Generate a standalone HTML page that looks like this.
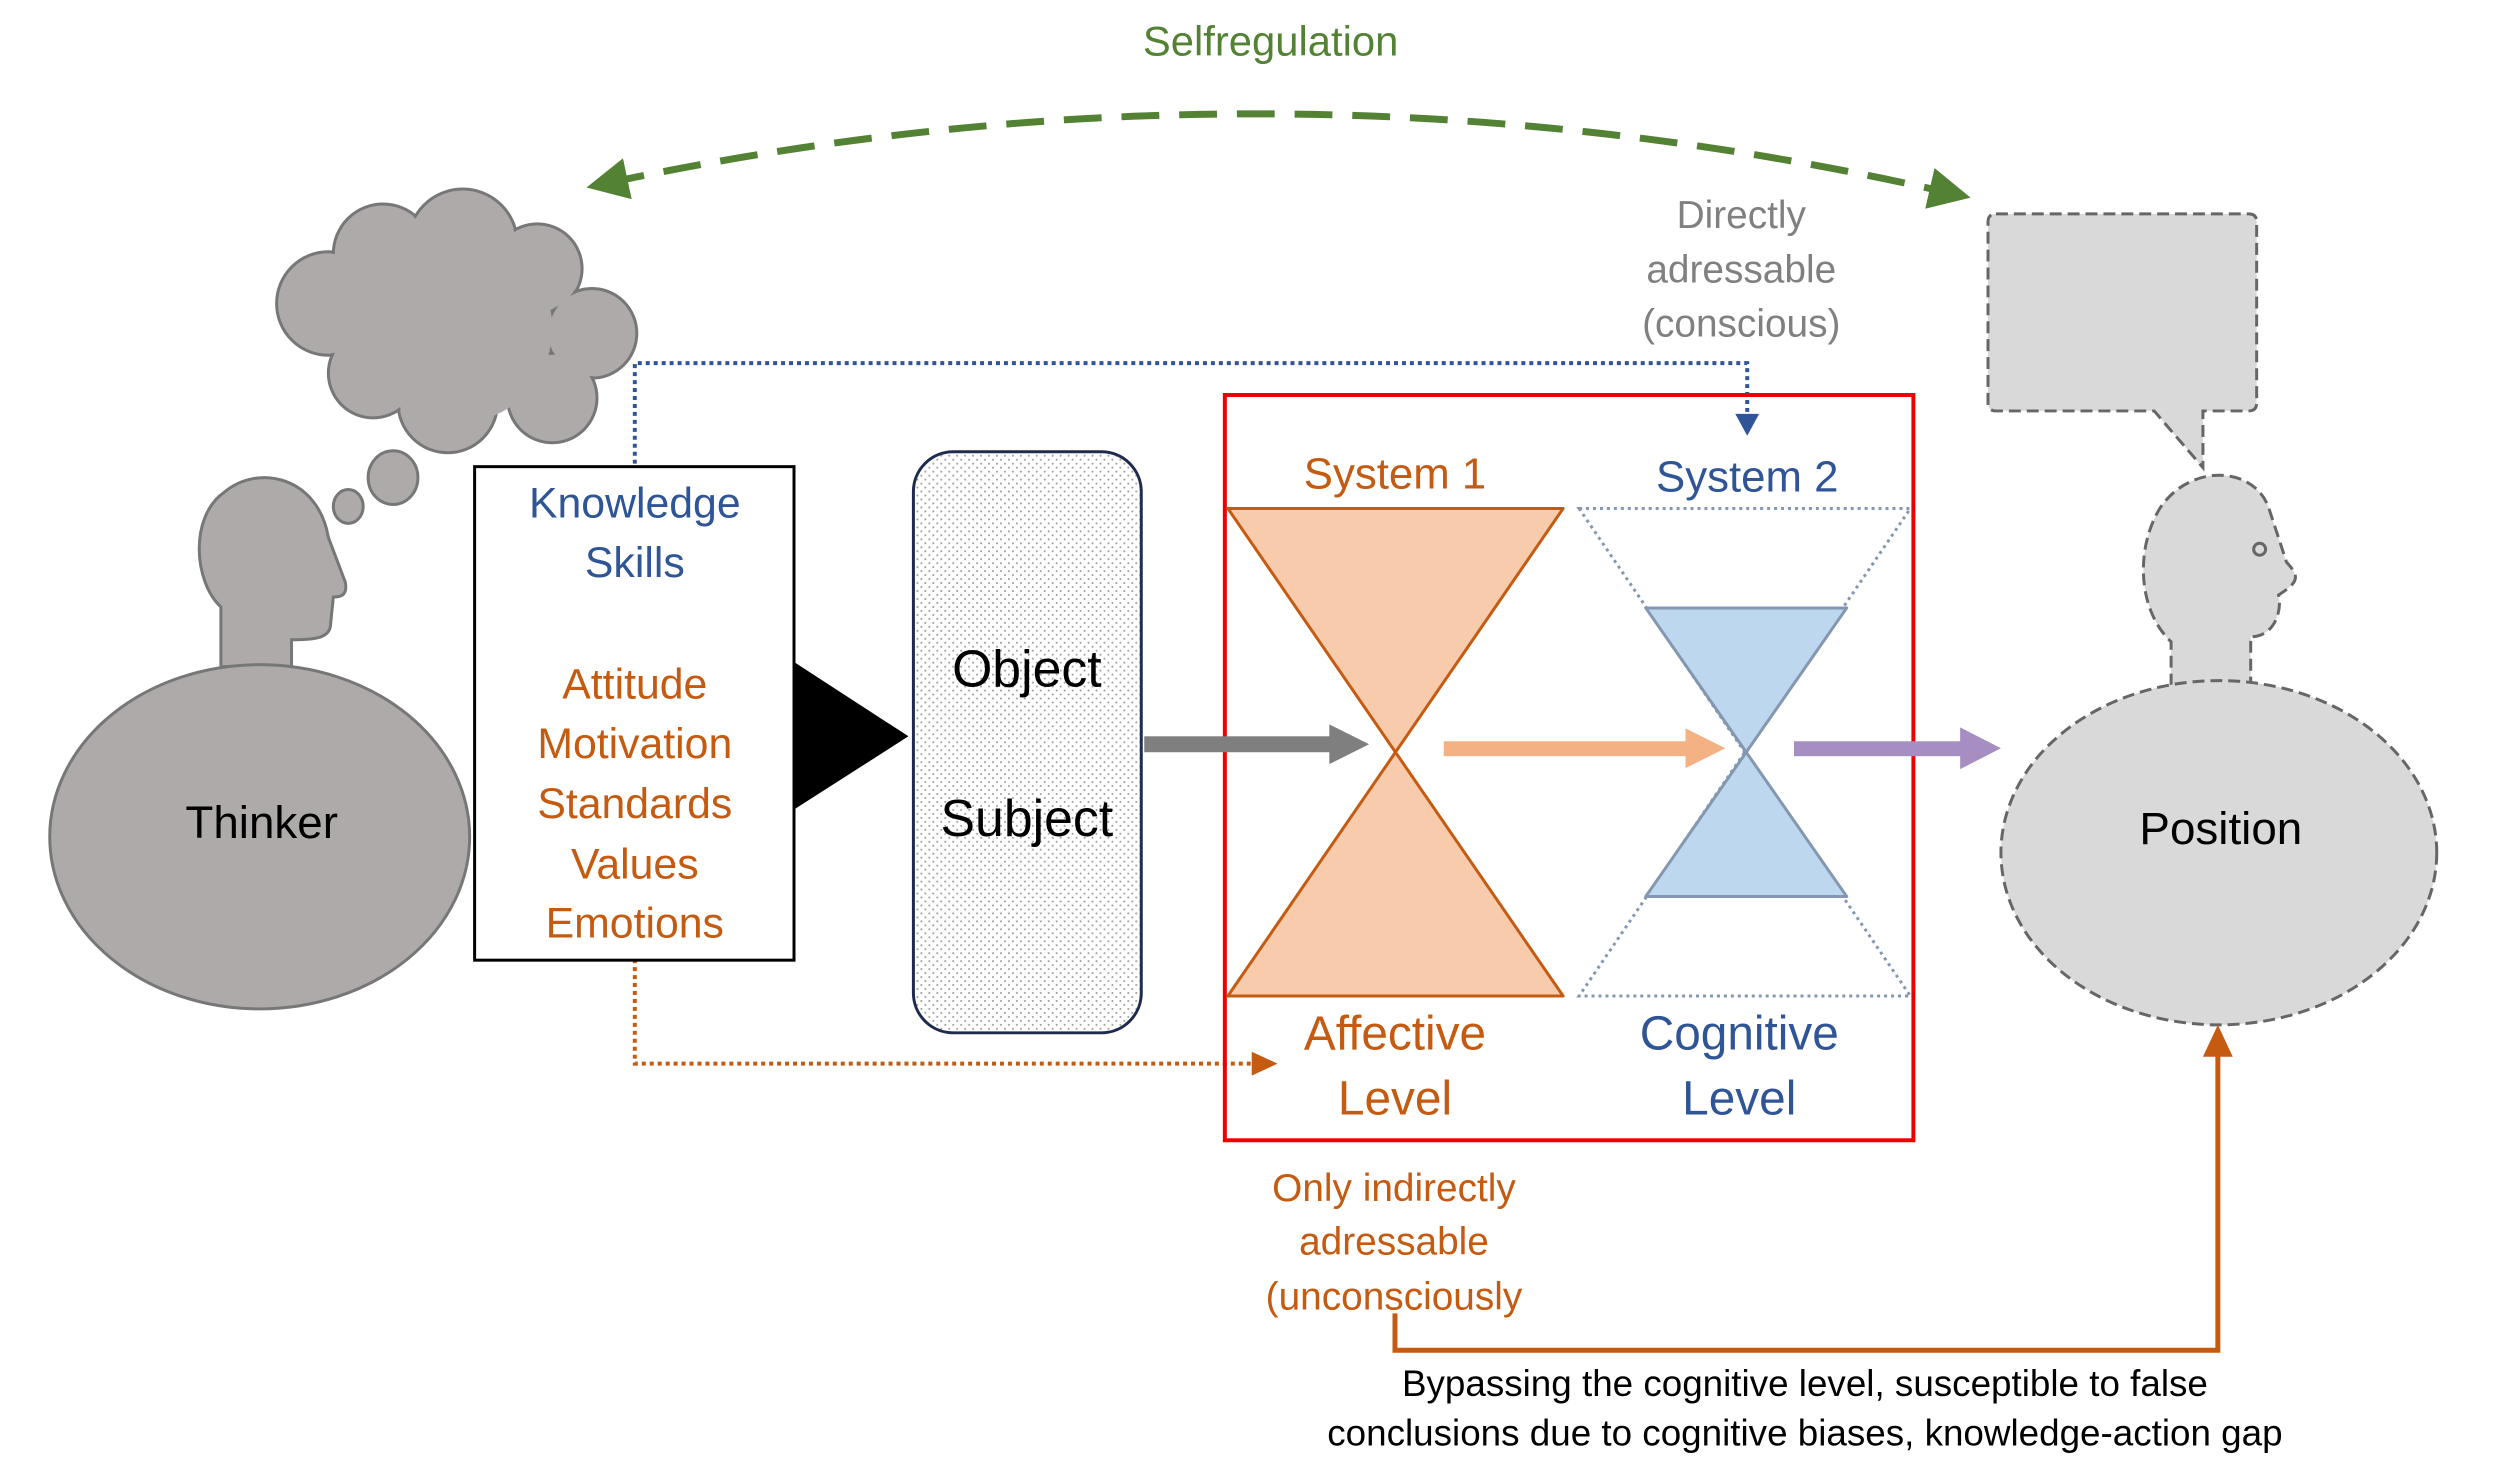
<!DOCTYPE html>
<html><head><meta charset="utf-8"><style>
html,body{margin:0;padding:0;background:#fff}
svg{display:block}
text{font-family:"Liberation Sans",sans-serif}
</style></head><body>
<svg width="2500" height="1482" viewBox="0 0 2500 1482" xmlns="http://www.w3.org/2000/svg">
<defs>
<pattern id="dots" width="8" height="8" patternUnits="userSpaceOnUse"><rect width="8" height="8" fill="#fff"/><circle cx="2" cy="2" r="1" fill="#999"/><circle cx="6" cy="6" r="1" fill="#999"/></pattern>
<marker id="ga" markerWidth="6" markerHeight="6" refX="3" refY="3" orient="auto-start-reverse" markerUnits="strokeWidth"><path d="M0,0 L6,3 L0,6 z" fill="#548235"/></marker>
</defs>
<g transform="scale(0.995)">
<text x="1277" y="56" font-size="42" fill="#548235" text-anchor="middle">Selfregulation</text>
<path d="M 610 184 Q 1285 40 1960 194" fill="none" stroke="#548235" stroke-width="7" stroke-dasharray="38,20" marker-start="url(#ga)" marker-end="url(#ga)"/>

<g fill="#ADAAA9" stroke="#777" stroke-width="3">
<circle cx="330" cy="305" r="52"/><circle cx="385" cy="255" r="50"/><circle cx="465" cy="245" r="55"/>
<circle cx="540" cy="270" r="45"/><circle cx="595" cy="335" r="45"/><circle cx="555" cy="400" r="45"/>
<circle cx="450" cy="405" r="50"/><circle cx="375" cy="375" r="45"/>
</g>
<g fill="#ADAAA9"><circle cx="330" cy="305" r="50"/><circle cx="385" cy="255" r="48"/><circle cx="465" cy="245" r="53"/>
<circle cx="540" cy="270" r="43"/><circle cx="595" cy="335" r="43"/><circle cx="555" cy="400" r="43"/>
<circle cx="450" cy="405" r="48"/><circle cx="375" cy="375" r="43"/><circle cx="460" cy="330" r="95"/></g>
<ellipse cx="395" cy="480" rx="25" ry="27" fill="#ADAAA9" stroke="#777" stroke-width="3"/>
<ellipse cx="350" cy="509" rx="15" ry="17" fill="#ADAAA9" stroke="#777" stroke-width="3"/>

<path d="M222 670 L222 610 C195 585 190 520 225 495 C260 465 320 480 330 540 L347 585 C350 600 340 600 335 600 L332 630 C330 640 320 643 293 643 L293 670 Z" fill="#ADAAA9" stroke="#777" stroke-width="3"/>
<ellipse cx="261" cy="841" rx="211" ry="173" fill="#ADAAA9" stroke="#777" stroke-width="3"/>
<text x="263" y="842" font-size="46" fill="#000" text-anchor="middle">Thinker</text>

<path d="M638 466 L638 365 L1756 365 L1756 420" fill="none" stroke="#2F5597" stroke-width="4" stroke-dasharray="4,4"/>
<path d="M1744 416 L1768 416 L1756 438 z" fill="#2F5597"/>
<path d="M638 964 L638 1069 L1262 1069" fill="none" stroke="#C55A11" stroke-width="4" stroke-dasharray="4,4"/>
<path d="M1258 1057 L1284 1069 L1258 1081 z" fill="#C55A11"/>

<rect x="477" y="469" width="321" height="496" fill="#fff" stroke="#000" stroke-width="3"/>
<g font-size="43" text-anchor="middle">
<text x="638" y="520" fill="#2F5597">Knowledge</text>
<text x="638" y="580" fill="#2F5597">Skills</text>
<text x="638" y="702" fill="#C55A11">Attitude</text>
<text x="638" y="762" fill="#C55A11">Motivation</text>
<text x="638" y="822" fill="#C55A11">Standards</text>
<text x="638" y="883" fill="#C55A11">Values</text>
<text x="638" y="942" fill="#C55A11">Emotions</text>
</g>
<path d="M799 666 L913 740 L799 813 z" fill="#000"/>

<rect x="918" y="454" width="229" height="584" rx="40" fill="url(#dots)" stroke="#1F2A4F" stroke-width="3"/>
<text x="1032" y="690" font-size="52" text-anchor="middle">Object</text>
<text x="1032" y="840" font-size="52" text-anchor="middle">Subject</text>

<rect x="1231" y="397" width="692" height="749" fill="none" stroke="#E00" stroke-width="4"/>
<text x="1402" y="491" font-size="44" fill="#C55A11" text-anchor="middle">System 1</text>
<text x="1756" y="494" font-size="44" fill="#2F5597" text-anchor="middle">System 2</text>
<path d="M1234 511 L1571 511 L1234 1001 L1571 1001 Z" fill="#F8CBAD" stroke="#C55A11" stroke-width="3" stroke-linejoin="round"/>
<path d="M1587 511 L1920 511 L1587 1001 L1920 1001 Z" fill="none" stroke="#8497B0" stroke-width="3" stroke-dasharray="3,4"/>
<path d="M1654 611 L1856 611 L1654 901 L1856 901 Z" fill="#BDD7EE" stroke="#8497B0" stroke-width="3" stroke-linejoin="round"/>
<text x="1402" y="1055" font-size="48" fill="#C55A11" text-anchor="middle">Affective</text>
<text x="1402" y="1120" font-size="48" fill="#C55A11" text-anchor="middle">Level</text>
<text x="1748" y="1055" font-size="48" fill="#2F5597" text-anchor="middle">Cognitive</text>
<text x="1748" y="1120" font-size="48" fill="#2F5597" text-anchor="middle">Level</text>

<rect x="1150" y="740" width="188" height="16" fill="#7F7F7F"/>
<path d="M1336 728 L1376 748 L1336 768 z" fill="#7F7F7F"/>
<rect x="1451" y="745" width="246" height="15" fill="#F4B183"/>
<path d="M1694 732 L1734 752 L1694 772 z" fill="#F4B183"/>
<rect x="1803" y="745" width="170" height="15" fill="#A68DC2"/>
<path d="M1970 731 L2011 752 L1970 773 z" fill="#A68DC2"/>

<g font-size="39" fill="#808080" text-anchor="middle">
<text x="1750" y="229">Directly</text>
<text x="1750" y="284">adressable</text>
<text x="1750" y="338">(conscious)</text>
</g>

<path d="M2006 215 L2260 215 Q2268 215 2268 223 L2268 405 Q2268 413 2260 413 L2214 413 L2214 470 L2165 413 L2006 413 Q1998 413 1998 405 L1998 223 Q1998 215 2006 215 Z" fill="#D9D9D9" stroke="#666" stroke-width="3" stroke-dasharray="12,6"/>
<path d="M2182 689 L2182 645 C2150 615 2145 555 2170 512 C2200 465 2265 468 2280 510 L2298 565 C2312 580 2310 585 2290 598 C2294 615 2285 640 2262 640 L2262 689 Z" fill="#D9D9D9" stroke="#666" stroke-width="3" stroke-dasharray="12,6"/>
<circle cx="2271" cy="552" r="6" fill="none" stroke="#666" stroke-width="3"/>
<ellipse cx="2230" cy="857" rx="219" ry="173" fill="#D9D9D9" stroke="#666" stroke-width="3" stroke-dasharray="12,6"/>
<text x="2232" y="848" font-size="46" text-anchor="middle">Position</text>

<path d="M1402 1320 L1402 1357 L2229 1357 L2229 1058" fill="none" stroke="#C55A11" stroke-width="5"/>
<path d="M2214 1062 L2229 1030 L2244 1062 z" fill="#C55A11"/>
<g font-size="39" fill="#C55A11" text-anchor="middle">
<text x="1401" y="1207">Only indirectly</text>
<text x="1401" y="1261">adressable</text>
<text x="1401" y="1316">(unconsciously</text>
</g>
<g font-size="37" fill="#000" text-anchor="middle">
<text x="1814" y="1403">Bypassing the cognitive level, susceptible to false</text>
<text x="1814" y="1453">conclusions due to cognitive biases, knowledge-action gap</text>
</g>
</g>
</svg>
</body></html>
